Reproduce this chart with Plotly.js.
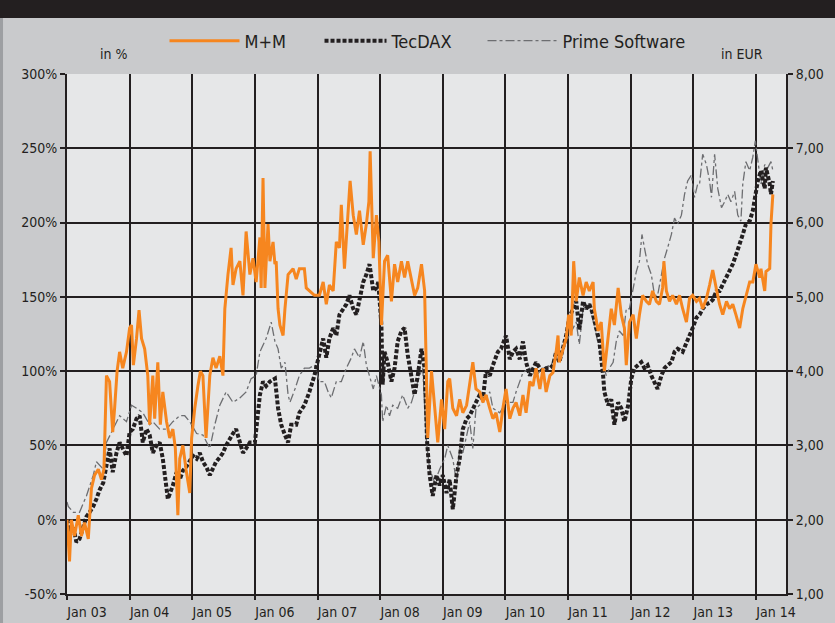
<!DOCTYPE html>
<html>
<head>
<meta charset="utf-8">
<script src="https://cdn.plot.ly/plotly-3.0.1.min.js"></script>
<style>
html,body{margin:0;padding:0;background:#c9cacc;}
#chart{width:835px;height:623px;}
</style>
</head>
<body>
<div id="chart"></div>
<script>
// ---- Data (percent change vs. Jan 2003, x = decimal year) ----
const mmYear = [2003.00,2003.04,2003.07,2003.12,2003.18,2003.23,2003.28,2003.34,2003.39,2003.44,2003.50,2003.55,2003.59,2003.63,2003.68,2003.73,2003.76,2003.80,2003.84,2003.89,2003.95,2004.00,2004.03,2004.06,2004.11,2004.15,2004.19,2004.24,2004.29,2004.32,2004.37,2004.40,2004.45,2004.49,2004.53,2004.59,2004.64,2004.69,2004.73,2004.77,2004.80,2004.85,2004.90,2004.96,2004.99,2005.04,2005.09,2005.13,2005.17,2005.22,2005.28,2005.33,2005.38,2005.44,2005.49,2005.52,2005.57,2005.62,2005.65,2005.70,2005.76,2005.81,2005.86,2005.92,2005.97,2006.02,2006.08,2006.10,2006.13,2006.16,2006.21,2006.24,2006.29,2006.32,2006.34,2006.37,2006.40,2006.45,2006.48,2006.53,2006.61,2006.66,2006.71,2006.79,2006.82,2006.87,2006.95,2007.03,2007.09,2007.14,2007.19,2007.25,2007.30,2007.35,2007.38,2007.43,2007.49,2007.52,2007.57,2007.62,2007.67,2007.73,2007.78,2007.82,2007.84,2007.89,2007.94,2007.98,2008.02,2008.07,2008.12,2008.18,2008.23,2008.28,2008.34,2008.39,2008.44,2008.50,2008.55,2008.60,2008.66,2008.71,2008.74,2008.76,2008.82,2008.87,2008.92,2008.98,2009.03,2009.08,2009.11,2009.16,2009.22,2009.27,2009.32,2009.38,2009.43,2009.48,2009.53,2009.59,2009.64,2009.69,2009.75,2009.80,2009.85,2009.91,2009.96,2010.01,2010.07,2010.12,2010.17,2010.23,2010.28,2010.33,2010.39,2010.44,2010.49,2010.55,2010.60,2010.65,2010.71,2010.76,2010.81,2010.84,2010.86,2010.92,2010.97,2011.01,2011.05,2011.09,2011.13,2011.18,2011.24,2011.29,2011.34,2011.40,2011.42,2011.48,2011.53,2011.58,2011.64,2011.69,2011.74,2011.80,2011.85,2011.90,2011.93,2011.98,2012.04,2012.09,2012.14,2012.19,2012.25,2012.30,2012.35,2012.41,2012.46,2012.51,2012.53,2012.57,2012.62,2012.67,2012.73,2012.78,2012.83,2012.89,2012.94,2012.99,2013.05,2013.10,2013.15,2013.21,2013.26,2013.31,2013.37,2013.42,2013.47,2013.53,2013.58,2013.63,2013.68,2013.74,2013.79,2013.84,2013.90,2013.95,2014.00,2014.06,2014.08,2014.14,2014.16,2014.22,2014.24,2014.27];
const mmVal = [0,-28,0,-11,3,-11,-2,-13,21,30,34,27,34,97,93,59,75,100,113,102,113,129,131,104,122,141,122,115,97,64,97,68,106,64,86,66,55,61,48,3,41,50,34,18,55,75,90,100,97,55,97,109,102,110,97,142,165,183,158,169,174,151,194,165,176,160,190,156,230,156,199,174,187,172,174,142,131,124,142,165,169,162,169,169,156,154,151,151,160,145,158,154,187,183,212,169,205,228,205,192,208,185,199,214,248,176,205,187,131,174,178,147,172,160,174,163,174,160,151,156,172,154,100,55,100,75,52,81,61,93,95,75,70,81,72,77,93,106,88,86,79,84,75,68,72,59,75,88,68,75,79,70,84,72,93,90,102,88,102,86,97,99,113,124,106,115,122,138,124,174,147,163,151,160,154,160,142,127,133,100,124,142,131,156,138,129,104,133,138,122,138,151,147,145,154,147,145,156,174,154,147,151,145,151,142,133,149,151,147,149,142,149,158,168,155,145,138,147,142,145,138,129,142,151,160,160,172,163,169,154,167,169,199,219];

const tdYear = [2003.00,2003.05,2003.10,2003.15,2003.20,2003.26,2003.31,2003.36,2003.42,2003.47,2003.52,2003.58,2003.63,2003.68,2003.73,2003.79,2003.84,2003.89,2003.95,2004.00,2004.05,2004.11,2004.16,2004.21,2004.27,2004.32,2004.37,2004.43,2004.48,2004.53,2004.59,2004.61,2004.69,2004.75,2004.80,2004.85,2004.91,2004.96,2005.01,2005.07,2005.12,2005.17,2005.23,2005.28,2005.33,2005.38,2005.44,2005.49,2005.54,2005.60,2005.65,2005.70,2005.76,2005.81,2005.86,2005.92,2006.00,2006.05,2006.08,2006.13,2006.18,2006.24,2006.32,2006.37,2006.42,2006.48,2006.53,2006.58,2006.66,2006.71,2006.79,2006.87,2006.95,2007.01,2007.09,2007.14,2007.19,2007.25,2007.30,2007.35,2007.41,2007.46,2007.51,2007.57,2007.62,2007.67,2007.73,2007.78,2007.83,2007.89,2007.94,2007.97,2008.02,2008.04,2008.07,2008.12,2008.18,2008.23,2008.28,2008.34,2008.39,2008.44,2008.50,2008.55,2008.60,2008.66,2008.71,2008.75,2008.79,2008.84,2008.90,2008.95,2009.00,2009.06,2009.11,2009.16,2009.22,2009.27,2009.32,2009.38,2009.43,2009.48,2009.53,2009.59,2009.64,2009.69,2009.75,2009.80,2009.88,2009.93,2010.01,2010.07,2010.12,2010.17,2010.23,2010.28,2010.33,2010.39,2010.44,2010.49,2010.55,2010.60,2010.65,2010.71,2010.76,2010.81,2010.86,2010.92,2010.97,2011.02,2011.08,2011.13,2011.18,2011.24,2011.29,2011.34,2011.40,2011.45,2011.50,2011.56,2011.58,2011.64,2011.69,2011.74,2011.80,2011.85,2011.90,2011.96,2012.01,2012.06,2012.11,2012.17,2012.22,2012.27,2012.33,2012.38,2012.43,2012.49,2012.54,2012.59,2012.65,2012.70,2012.75,2012.83,2012.89,2012.94,2012.99,2013.05,2013.10,2013.15,2013.21,2013.26,2013.31,2013.37,2013.42,2013.47,2013.53,2013.58,2013.63,2013.68,2013.74,2013.79,2013.84,2013.90,2013.95,2014.00,2014.03,2014.08,2014.14,2014.16,2014.22,2014.24,2014.27];
const tdVal = [0,-8,-5,-15,-13,-5,2,5,9,14,20,25,36,48,32,45,52,48,43,59,61,68,70,52,61,57,45,50,52,41,18,14,23,32,27,33,36,39,43,41,45,39,35,30,35,39,42,45,50,55,58,61,52,45,48,52,52,72,84,93,90,93,95,75,64,57,52,64,64,72,77,86,97,108,122,109,122,129,124,138,142,145,151,142,138,149,160,165,172,154,156,160,131,91,113,106,93,102,120,127,129,111,97,84,97,115,102,52,30,16,30,23,30,18,27,7,30,41,61,68,70,75,79,84,81,100,97,104,113,115,124,108,113,115,108,120,106,97,102,106,102,100,102,102,104,113,106,115,124,136,142,147,128,147,142,145,138,129,120,97,86,77,81,64,79,75,66,77,95,102,104,106,102,104,97,93,88,97,102,104,106,113,115,113,120,124,129,136,138,142,145,146,148,154,154,158,163,167,172,178,185,192,199,201,208,219,228,235,223,237,226,219,228];

const psYear = [2003.00,2003.02,2003.10,2003.20,2003.31,2003.42,2003.47,2003.58,2003.63,2003.74,2003.84,2003.95,2004.03,2004.11,2004.21,2004.32,2004.37,2004.48,2004.59,2004.69,2004.80,2004.88,2004.96,2005.07,2005.17,2005.28,2005.36,2005.44,2005.54,2005.65,2005.76,2005.86,2005.94,2006.02,2006.08,2006.18,2006.26,2006.32,2006.37,2006.42,2006.48,2006.53,2006.56,2006.64,2006.71,2006.79,2006.87,2006.95,2007.03,2007.11,2007.17,2007.22,2007.30,2007.38,2007.46,2007.54,2007.59,2007.67,2007.73,2007.78,2007.83,2007.89,2007.94,2008.02,2008.04,2008.10,2008.15,2008.20,2008.28,2008.36,2008.44,2008.50,2008.55,2008.63,2008.68,2008.74,2008.79,2008.87,2008.95,2009.03,2009.08,2009.16,2009.22,2009.27,2009.32,2009.43,2009.48,2009.53,2009.64,2009.75,2009.80,2009.91,2010.01,2010.12,2010.17,2010.23,2010.28,2010.39,2010.49,2010.60,2010.71,2010.81,2010.92,2011.02,2011.13,2011.18,2011.24,2011.34,2011.40,2011.45,2011.50,2011.56,2011.61,2011.66,2011.72,2011.77,2011.82,2011.88,2011.93,2011.98,2012.04,2012.09,2012.14,2012.18,2012.22,2012.27,2012.33,2012.38,2012.43,2012.49,2012.54,2012.59,2012.65,2012.70,2012.75,2012.81,2012.86,2012.91,2012.97,2013.02,2013.07,2013.10,2013.15,2013.21,2013.26,2013.29,2013.34,2013.39,2013.45,2013.50,2013.55,2013.60,2013.66,2013.71,2013.76,2013.79,2013.84,2013.90,2013.95,2013.99,2014.03,2014.08,2014.14,2014.19,2014.24,2014.27];
const psVal = [12,9,5,5,16,30,39,34,52,61,70,66,77,75,72,64,66,61,61,66,70,70,66,58,57,48,64,77,86,79,82,86,95,97,113,122,133,120,115,102,106,84,79,88,97,102,102,104,93,93,86,82,93,93,102,109,115,109,120,104,97,88,97,84,66,77,70,77,75,84,75,79,86,97,102,52,34,25,34,41,50,41,25,48,45,66,48,75,79,86,75,72,79,79,86,93,99,102,97,102,104,108,115,124,133,118,142,145,133,124,115,106,97,102,106,120,127,124,142,142,156,167,174,192,183,172,165,151,151,165,176,183,192,203,199,205,219,228,232,217,226,226,246,239,228,217,246,223,210,214,219,214,221,205,201,226,241,235,244,255,241,226,239,237,241,235];

const seriesNames = ["M+M", "TecDAX", "Prime Software"];
const yearTicks = [2003,2004,2005,2006,2007,2008,2009,2010,2011,2012,2013,2014];
const yearLabels = ["Jan 03","Jan 04","Jan 05","Jan 06","Jan 07","Jan 08","Jan 09","Jan 10","Jan 11","Jan 12","Jan 13","Jan 14"];
const pctTicks = [-50,0,50,100,150,200,250,300];
const pctLabels = ["-50%","0%","50%","100%","150%","200%","250%","300%"];
const eurTicks = [1,2,3,4,5,6,7,8];

const FONT = "'Liberation Sans Narrow','DejaVu Sans Condensed','Arial Narrow',sans-serif";
const INK = "#231f20";

const traces = [
  {x: psYear, y: psVal, name: seriesNames[2], type: "scatter", mode: "lines", legend: "legend3",
   line: {color: "#6d6e71", width: 1.3, dash: "dashdot"}},
  {x: tdYear, y: tdVal, name: seriesNames[1], type: "scatter", mode: "lines", legend: "legend2",
   line: {color: INK, width: 4, dash: "4px,2px"}},
  {x: mmYear, y: mmVal, name: seriesNames[0], type: "scatter", mode: "lines", legend: "legend",
   line: {color: "#f6861f", width: 3}},
  {x: [2003], y: [1], yaxis: "y2", type: "scatter", mode: "markers",
   marker: {opacity: 0}, showlegend: false, hoverinfo: "skip"}
];

function legendAt(xp, w) {
  return {orientation: "h", x: xp, xanchor: "left", y: 1.0635, yanchor: "middle",
          bgcolor: "rgba(0,0,0,0)", itemwidth: w,
          font: {family: FONT, size: 18, color: INK}};
}

const layout = {
  width: 835, height: 623,
  margin: {l: 67, r: 49, t: 74, b: 29, pad: 0, autoexpand: false},
  paper_bgcolor: "#c9cacc",
  plot_bgcolor: "#e6e7e8",
  separators: ",.",
  font: {family: FONT, color: INK, size: 14},
  showlegend: true,
  legend: legendAt(0.1356, 70),
  legend2: legendAt(0.3512, 62),
  legend3: legendAt(0.5779, 70),
  xaxis: {type: "linear", range: [2003, 2014.48], tickvals: yearTicks, ticktext: yearLabels,
          showgrid: true, gridcolor: INK, gridwidth: 2, zeroline: false,
          showline: true, linecolor: INK, linewidth: 2,
          ticks: "outside", ticklen: 4, tickwidth: 2, tickcolor: INK,
          ticklabelshift: 20, tickfont: {family: FONT, size: 14, color: INK}, fixedrange: true},
  yaxis: {range: [-50, 300], tickvals: pctTicks, ticktext: pctLabels,
          showgrid: true, gridcolor: INK, gridwidth: 2, zeroline: false,
          showline: true, linecolor: INK, linewidth: 2,
          ticks: "outside", ticklen: 5, tickwidth: 2, tickcolor: INK,
          tickfont: {family: FONT, size: 14, color: INK}, fixedrange: true},
  yaxis2: {range: [1, 8], tickvals: eurTicks, tickformat: ".2f", overlaying: "y", side: "right",
           showgrid: false, zeroline: false, showline: true, linecolor: INK, linewidth: 2,
           ticks: "outside", ticklen: 5, tickwidth: 2, tickcolor: INK,
           tickfont: {family: FONT, size: 14, color: INK}, fixedrange: true},
  shapes: [
    {type: "rect", xref: "paper", yref: "paper", x0: -0.1, x1: 1.1, y0: 1.1077, y1: 1.16,
     fillcolor: INK, line: {width: 0}, layer: "above"},
    {type: "rect", xref: "paper", yref: "paper", x0: -0.1, x1: -0.0890, y0: -0.1, y1: 1.1077,
     fillcolor: "#9d9fa2", line: {width: 0}, layer: "above"}
  ],
  annotations: [
    {text: "in %", xref: "paper", yref: "paper", x: 0.043, y: 1.019, xanchor: "left", yanchor: "bottom",
     showarrow: false, font: {family: FONT, size: 14, color: INK}},
    {text: "in EUR", xref: "paper", yref: "paper", x: 0.971, y: 1.019, xanchor: "right", yanchor: "bottom",
     showarrow: false, font: {family: FONT, size: 14, color: INK}}
  ]
};

Plotly.newPlot("chart", traces, layout, {displayModeBar: false, staticPlot: true});
</script>
</body>
</html>
